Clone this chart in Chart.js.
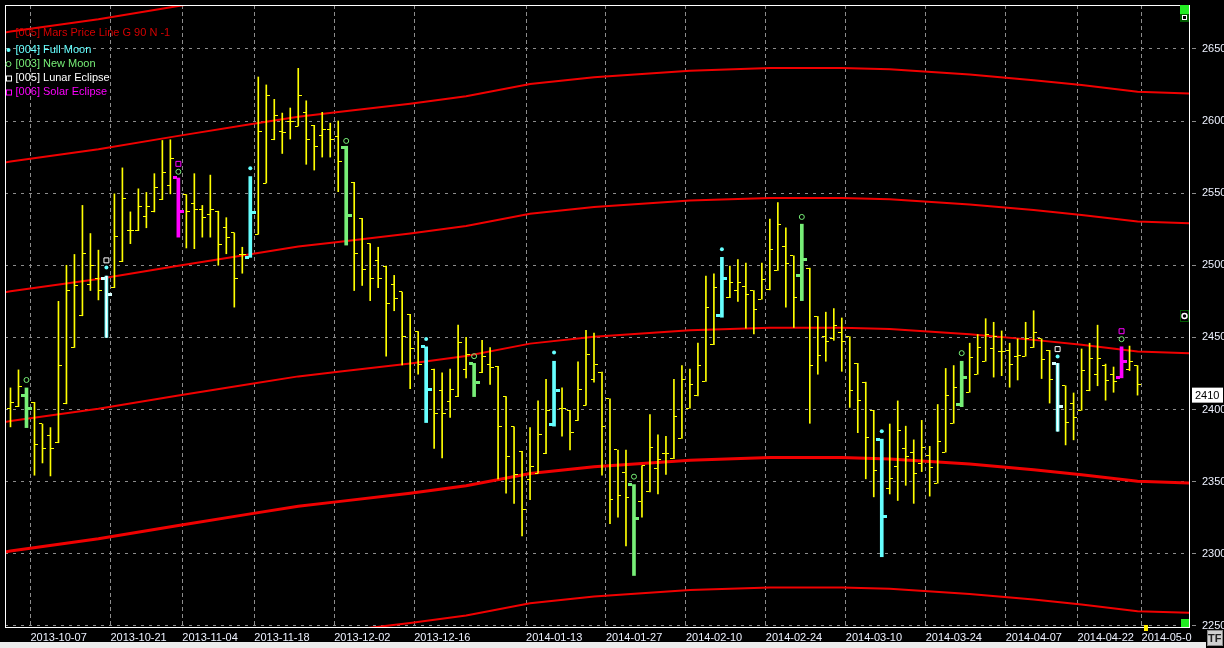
<!DOCTYPE html>
<html lang="en">
<head>
<meta charset="UTF-8" />
<title>Mars Price Lines</title>
<script src="https://cdn.jsdelivr.net/npm/chart.js@4.4.1/dist/chart.umd.min.js"></script>
<style>
  body { margin: 0; background: #000; }
  canvas { display: block; }
</style>
</head>
<body>
<canvas id="chart" width="1224" height="648"></canvas>
<script>
// daily OHLC bars, one entry per trading day (index 0 = first bar on the left)
const opens = [2400.5,2402,2410,2405,2390,2382,2377,2404,2443,2465,2487,2490.5,2491,2484.5,2502.5,2524,2524,2534,2537,2545.5,
  2555,2560.5,2549,2542.5,2539,2535.5,2537.5,2526,2522.5,2507.5,2505.5,2521.5,2557,2587,2592.5,2599.5,2596.5,2606,2597,2590,
  2594,2589.5,2581.5,2557.5,2532.5,2515,2503,2499.5,2486.5,2481.5,2466,2454,2443.5,2428,2413,2405.5,2409,2428,2432,2425.5,
  2431,2430,2409,2388,2371,2351.5,2356,2369.5,2389.5,2401,2399.5,2392.5,2403,2420.5,2426,2407.5,2372,2356.5,2348,2336.5,
  2343,2359,2369.5,2366,2380,2401,2409.5,2419.5,2445,2465.5,2477.5,2482.5,2485.5,2482.5,2476.5,2483,2496.5,2513,2506.5,2493,
  2498,2464.5,2450.5,2449.5,2453.5,2450.5,2432,2419,2399.5,2379.5,2345,2360.5,2373,2370,2362.5,2368.5,2349,2370.5,2390.5,2403.5,
  2412,2424.5,2433.5,2442.5,2440.5,2441,2436.5,2437,2443,2449,2441,2432,2416.5,2404,2399.5,2413,2424,2430.5,2424.5,2422,
  2427.5,2430.5];
const highs = [2415,2427.5,2415,2405,2390,2387.5,2475,2500,2507.5,2541.5,2522,2510.5,2492.5,2549.5,2567.5,2537,2553,2550.5,2563.5,2586.5,
  2587,2560.5,2549,2563.5,2541.5,2562.5,2537.5,2533,2522.5,2512.5,2561.5,2630.5,2625,2615,2605.5,2609,2636.5,2614,2597,2606,
  2598.5,2600,2582.5,2557.5,2532.5,2515,2512.5,2499.5,2493,2481.5,2466,2454,2443.5,2428,2425.5,2428,2458.5,2450,2432,2448,
  2443,2430,2409,2388,2371,2387.5,2406,2421,2433.5,2415,2399.5,2433,2455,2453,2426,2407.5,2372,2372,2348,2361,
  2396.5,2382.5,2381.5,2421,2430.5,2428,2446,2492.5,2494,2505.5,2499.5,2504,2501.5,2482.5,2501.5,2532,2543.5,2526,2506.5,2528.5,
  2498,2464.5,2467.5,2470,2463.5,2450.5,2432,2419,2399.5,2379.5,2390,2406,2388.5,2379,2392.5,2374.5,2403.5,2428.5,2430.5,2433.5,
  2446,2452,2463,2460.5,2454.5,2446,2449,2460.5,2468.5,2449,2441,2432,2416.5,2411.5,2442,2446,2458.5,2431.5,2429.5,2443.5,
  2444,2430.5];
const lows = [2388,2402,2387.5,2354.5,2363,2354,2377,2404,2443,2465,2482.5,2476,2450,2484.5,2502.5,2515,2524,2526,2537,2545.5,
  2549.5,2519.5,2512,2511.5,2519.5,2519.5,2500,2508,2471,2494.5,2505.5,2521.5,2557,2587,2577.5,2587.5,2596.5,2570,2566,2575,
  2575,2551,2514,2482.5,2486,2475.5,2484.5,2437,2468.5,2431,2414.5,2424.5,2391,2373,2366.5,2394.5,2409,2422,2409,2425.5,
  2417.5,2352,2342,2335,2312.5,2337.5,2356,2369.5,2388.5,2381.5,2372,2392.5,2403,2419,2354.5,2321,2325.5,2305.5,2285,2325.5,
  2343,2341.5,2355,2366,2380,2401,2409.5,2419.5,2445,2464,2477.5,2475,2456.5,2452.5,2476.5,2483,2496.5,2471,2457,2475.5,
  2390.5,2424.5,2433.5,2448,2426.5,2401.5,2384,2352,2339.5,2298,2341.5,2337,2347.5,2335,2357,2340,2349,2370.5,2390.5,2402,
  2412,2424.5,2433.5,2422.5,2423.5,2415.5,2420.5,2437,2443,2421.5,2404.5,2385,2375.5,2379,2399.5,2413,2416.5,2406.5,2412,2422,
  2427,2410];
const closes = [2405,2416,2400.5,2375.5,2373,2373,2430.5,2482.5,2486,2508.5,2500,2482.5,2479.5,2520,2546.5,2524,2540.5,2540.5,2554,2564.5,
  2574,2537,2537,2539,2533,2539,2514.5,2519.5,2491,2507.5,2536.5,2593,2618,2603.5,2592,2599.5,2618,2587.5,2582.5,2594,
  2587.5,2572,2534.5,2508,2497,2491,2491,2473.5,2477,2450.5,2442,2431.5,2414,2397.5,2397.5,2414,2446.5,2438,2419,2436.5,
  2429.5,2388.5,2367.5,2355,2331,2360.5,2382.5,2399.5,2413,2401,2384,2414,2438,2431.5,2388,2337.5,2340.5,2339,2324.5,2361,
  2374,2365.5,2369.5,2395.5,2421,2417.5,2430.5,2470.5,2484.5,2491,2488,2488,2479.5,2469.5,2490,2511,2528,2501,2478,2504,
  2430.5,2437.5,2447.5,2458,2447.5,2413.5,2406,2380.5,2357.5,2326,2352,2385.5,2367.5,2355.5,2373.5,2360,2378,2410,2415,2422,
  2436,2443,2452,2450.5,2440,2431.5,2437.5,2449.5,2453.5,2434.5,2421,2402,2391,2394.5,2427,2435.5,2435.5,2420,2419.5,2433,
  2433,2417.5];
const lastPrice = 2410;

// bars that carry a moon / eclipse event, and where their markers sit
const fullMoon = [12, 30, 52, 68, 89, 109, 131];
const fullMoonMarks = [2498.4, 2567.3, 2448.9, 2439.5, 2511.2, 2385, 2436.8];
const newMoon = [2, 21, 42, 58, 78, 99, 119, 139];
const newMoonMarks = [2420.5, 2564.8, 2586.2, 2437, 2353.5, 2533.5, 2439.1, 2448.8];
const lunarEclipse = [12, 131];
const lunarEclipseMarks = [2503.4, 2441.9];
const solarEclipse = [21, 139];
const solarEclipseMarks = [2570.3, 2454.3];

// Mars price lines (G 90), sampled along the bar index
const marsIdx = [-1, 0, 11, 21, 30, 36, 41, 50, 57, 65, 73, 85, 95, 104, 110, 120, 128, 134, 141, 148];
const mars1 = [2661,2662,2670.5,2679.7,2687.7,2693,2696.2,2702,2707.2,2715.7,2720.4,2724.9,2726.7,2726.7,2725.8,2722.2,2718.3,2714.9,2710.3,2709];
const mars2 = [2571,2572,2580.5,2589.7,2597.7,2603,2606.2,2612,2617.2,2625.7,2630.4,2634.9,2636.7,2636.7,2635.8,2632.2,2628.3,2624.9,2620.3,2619];
const mars3 = [2481,2482,2490.5,2499.7,2507.7,2513,2516.2,2522,2527.2,2535.7,2540.4,2544.9,2546.7,2546.7,2545.8,2542.2,2538.3,2534.9,2530.3,2529];
const mars4 = [2391,2392,2400.5,2409.7,2417.7,2423,2426.2,2432,2437.2,2445.7,2450.4,2454.9,2456.7,2456.7,2455.8,2452.2,2448.3,2444.9,2440.3,2439];
const mars5 = [2301,2302,2310.5,2319.7,2327.7,2333,2336.2,2342,2347.2,2355.7,2360.4,2364.9,2366.7,2366.7,2365.8,2362.2,2358.3,2354.9,2350.3,2349];
const mars6 = [2211,2212,2220.5,2229.7,2237.7,2243,2246.2,2252,2257.2,2265.7,2270.4,2274.9,2276.7,2276.7,2275.8,2272.2,2268.3,2264.9,2260.3,2259];

// axis ticks
const dateTickPos = [2.5, 12.5, 21.5, 30.5, 40.5, 50.5, 64.5, 74.5, 84.5, 94.5, 104.5, 114.5, 124.5, 133.5, 141.5];
const dateLabels = ['2013-10-07','2013-10-21','2013-11-04','2013-11-18','2013-12-02','2013-12-16','2014-01-13','2014-01-27',
  '2014-02-10','2014-02-24','2014-03-10','2014-03-24','2014-04-07','2014-04-22','2014-05-0'];
const priceTicks = [2250, 2300, 2350, 2400, 2450, 2500, 2550, 2600, 2650];

const legendRows = [
  { text: '[005] Mars Price Line G 90 N -1', color: '#d40000', mark: null },
  { text: '[004] Full Moon', color: '#66ffff', mark: 'dot' },
  { text: '[003] New Moon', color: '#77ee77', mark: 'circle' },
  { text: '[005] Lunar Eclipse', color: '#ffffff', mark: 'square' },
  { text: '[006] Solar Eclipse', color: '#ff00ff', mark: 'square' }
];

const YELLOW = '#ffff00', CYAN = '#66ffff', GREEN = '#77ee77', MAGENTA = '#ff00ff', RED = '#f00000';

function kindOf(i) {
  if (solarEclipse.includes(i)) return 'solar';
  if (lunarEclipse.includes(i)) return 'lunar';
  if (fullMoon.includes(i)) return 'full';
  if (newMoon.includes(i)) return 'new';
  return null;
}
const barColor = { solar: MAGENTA, lunar: CYAN, full: CYAN, new: GREEN };
const tickColor = { solar: MAGENTA, lunar: '#d8ffff', full: CYAN, new: GREEN };

// small images used as point styles for the open (left) and close (right) ticks
function tickImage(color, side, wide) {
  const c = document.createElement('canvas');
  c.width = wide ? 15 : 9;
  c.height = wide ? 3 : 1;
  const g = c.getContext('2d');
  g.fillStyle = color;
  if (wide) g.fillRect(side === 'left' ? 2 : 9, 0, 4, 3);
  else g.fillRect(side === 'left' ? 1 : 5, 0, 3, 1);
  return c;
}
const imgs = {};
function tickStyle(i, side) {
  const k = kindOf(i);
  const key = (k || 'plain') + side;
  if (!imgs[key]) imgs[key] = tickImage(k ? tickColor[k] : YELLOW, side, !!k);
  return imgs[key];
}

const idx = opens.map((_, i) => i);
const plainIdx = idx.filter(i => !kindOf(i));
const eventIdx = idx.filter(i => kindOf(i));

function marsLine(vals, width) {
  return {
    type: 'line', order: 10,
    data: marsIdx.map((k, j) => ({ x: k, y: vals[j] })),
    borderColor: RED, borderWidth: width, pointRadius: 0, tension: 0
  };
}
function ticks(list, arr, side) {
  return {
    type: 'scatter', order: 3,
    data: list.map(i => ({ x: i, y: arr[i] })),
    pointStyle: ctx => ctx.raw ? tickStyle(ctx.raw.x, side) : 'circle',
    pointRadius: 1
  };
}
function marks(list, vals, style, radius, color, filled) {
  return {
    type: 'scatter', order: 1,
    data: list.map((i, j) => ({ x: i, y: vals[j] })),
    pointStyle: style, pointRadius: radius, borderWidth: filled ? 0 : 1,
    borderColor: color, backgroundColor: filled ? color : 'rgba(0,0,0,0)'
  };
}

const datasets = [
  marsLine(mars1, 2), marsLine(mars2, 2), marsLine(mars3, 2),
  marsLine(mars4, 2), marsLine(mars5, 3), marsLine(mars6, 2),
  { type: 'bar', order: 6, grouped: false, barThickness: 1, backgroundColor: YELLOW,
    data: plainIdx.map(i => ({ x: i, y: [lows[i], highs[i]] })) },
  { type: 'bar', order: 5, grouped: false, barThickness: 3,
    backgroundColor: ctx => ctx.raw ? barColor[kindOf(ctx.raw.x)] : CYAN,
    data: eventIdx.map(i => ({ x: i, y: [lows[i], highs[i]] })) },
  { type: 'bar', order: 4, grouped: false, barThickness: 1, backgroundColor: '#ffffff',
    data: lunarEclipse.map(i => ({ x: i, y: [lows[i], highs[i]] })) },
  ticks(idx, opens, 'left'), ticks(idx, closes, 'right'),
  marks(newMoon, newMoonMarks, 'circle', 2.5, GREEN, false),
  marks(fullMoon, fullMoonMarks, 'circle', 2, CYAN, true),
  marks(lunarEclipse, lunarEclipseMarks, 'rect', 3.5, '#ffffff', false),
  marks(solarEclipse, solarEclipseMarks, 'rect', 3.5, MAGENTA, false)
];

const extras = {
  id: 'extras',
  beforeDraw(chart) {
    const c = chart.ctx;
    c.save();
    c.fillStyle = '#000';
    c.fillRect(0, 0, chart.width, chart.height);
    c.restore();
  },
  beforeDatasetsDraw(chart) { chart.ctx.imageSmoothingEnabled = false; },
  afterDatasetsDraw(chart) { chart.ctx.imageSmoothingEnabled = true; },
  afterDraw(chart) {
    const c = chart.ctx;
    const a = chart.chartArea;
    c.save();
    // frame
    c.strokeStyle = '#ffffff';
    c.lineWidth = 1;
    c.strokeRect(a.left + 0.5, a.top + 0.5, a.right - a.left, a.bottom - a.top);

    // legend
    c.font = '11px "Liberation Sans", Arial, sans-serif';
    c.textBaseline = 'middle';
    const rowY = [28, 45, 59, 73, 87];
    legendRows.forEach((r, j) => {
      const y = a.top + rowY[j];
      const mx = a.left + 3.5;
      c.fillStyle = r.color;
      c.strokeStyle = r.color;
      if (r.mark === 'dot') { c.beginPath(); c.arc(mx, y, 2, 0, Math.PI * 2); c.fill(); }
      if (r.mark === 'circle') { c.beginPath(); c.arc(mx, y, 2.5, 0, Math.PI * 2); c.stroke(); }
      if (r.mark === 'square') c.strokeRect(mx - 2, y - 2, 5, 5);
      c.fillText(r.text, a.left + 10.5, y);
    });

    // last price box on the price axis
    const py = chart.scales.y.getPixelForValue(lastPrice);
    c.fillStyle = '#ffffff';
    c.fillRect(a.right + 3, py - 7.5, 31, 15);
    c.fillStyle = '#000000';
    c.fillText(String(lastPrice), a.right + 6, py + 0.5);

    // scroll markers at the right edge
    c.fillStyle = '#22ee22';
    c.fillRect(a.right - 9, a.top, 9, 9);
    c.fillRect(a.right - 8, a.bottom - 8, 8, 8);
    c.fillStyle = '#005a00';
    c.fillRect(a.right - 9, a.top + 9, 9, 8);
    c.fillStyle = '#000';
    c.fillRect(a.right - 7, a.top + 10, 5, 5);
    c.strokeStyle = '#ffffff';
    c.strokeRect(a.right - 6.5, a.top + 10.5, 4, 4);
    c.fillStyle = '#005a00';
    c.fillRect(a.right - 9, 310, 9, 12);
    c.fillStyle = '#000';
    c.fillRect(a.right - 8, 311, 7, 10);
    c.strokeStyle = '#ffffff';
    c.lineWidth = 1.5;
    c.beginPath(); c.arc(a.right - 4.5, 316, 2.5, 0, Math.PI * 2); c.stroke();
    c.fillStyle = '#ffee00';
    c.fillRect(1144, a.bottom - 2, 4, 6);

    // bottom strip and TF button
    c.fillStyle = '#ececec';
    c.fillRect(0, 642, 1206, 6);
    c.fillStyle = '#d0d0d0';
    c.fillRect(1207, 630, 16, 16);
    c.strokeStyle = '#888';
    c.lineWidth = 1;
    c.strokeRect(1207.5, 630.5, 15, 15);
    c.fillStyle = '#222';
    c.font = 'bold 11px "Liberation Sans", Arial, sans-serif';
    c.fillText('TF', 1208, 638.5);
    c.restore();
  }
};

const axisFont = { family: '"Liberation Sans", Arial, sans-serif', size: 11 };

new Chart(document.getElementById('chart'), {
  type: 'bar',
  data: { datasets: datasets },
  plugins: [extras],
  options: {
    responsive: false,
    animation: false,
    events: [],
    layout: { padding: { left: 4, top: 3, right: 0, bottom: 0 } },
    plugins: { legend: { display: false }, tooltip: { enabled: false } },
    scales: {
      x: {
        type: 'linear', min: -0.6875, max: 147.4375, offset: false,
        afterBuildTicks: s => { s.ticks = dateTickPos.map(v => ({ value: v })); },
        afterFit: s => { s.height = 21; s.paddingLeft = 0; s.paddingRight = 0; },
        grid: { color: '#8c8c8c', drawTicks: false, offset: false },
        border: { display: false, dash: [4, 3] },
        ticks: {
          autoSkip: false, maxRotation: 0, align: 'start', padding: 4,
          color: '#eef2ff', font: axisFont,
          callback: (v, i) => dateLabels[i]
        }
      },
      y: {
        type: 'linear', position: 'right', min: 2249.3, max: 2680.4,
        afterBuildTicks: s => { s.ticks = priceTicks.map(v => ({ value: v })); },
        afterFit: s => { s.width = 35; s.paddingTop = 0; s.paddingBottom = 0; },
        grid: { color: '#8c8c8c', tickLength: 7, tickColor: '#8c8c8c', tickBorderDash: [0, 3, 4, 10] },
        border: { display: false, dash: [3, 5] },
        ticks: { color: '#eef2ff', font: axisFont, padding: 6, callback: v => String(v) }
      }
    }
  }
});
</script>
</body>
</html>
